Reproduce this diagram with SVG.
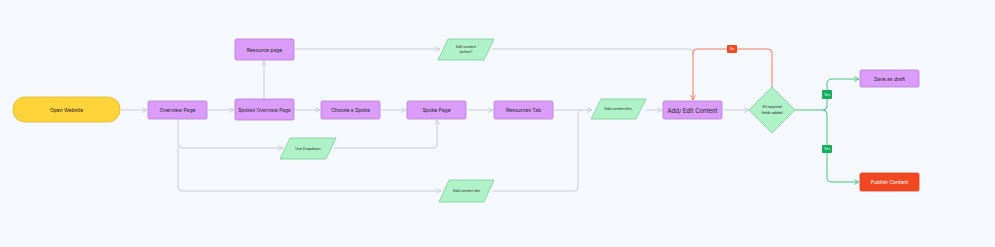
<svg xmlns="http://www.w3.org/2000/svg" width="995" height="247" viewBox="0 0 995 247">
<defs>
<style>
.t{font-family:"Inter","Liberation Sans",sans-serif;fill:#1e1e1e;text-anchor:middle;dominant-baseline:central}
.p{fill:#DA9CF8;stroke:#B47FD2;stroke-width:0.8}
.g{fill:#AFF2C8;stroke:#7ACD98;stroke-width:0.8}
.c{fill:none;stroke:#C9CDD3;stroke-width:1}
.cr{fill:none;stroke:#F27A5C;stroke-width:1}
.cg{fill:none;stroke:#45C480;stroke-width:1}
</style>
<marker id="ag" viewBox="0 0 10 10" refX="9" refY="5" markerWidth="6" markerHeight="6" orient="auto" markerUnits="userSpaceOnUse"><path d="M1,1 L9,5 L1,9" fill="none" stroke="#C9CDD3" stroke-width="1.5"/></marker>
<marker id="ar" viewBox="0 0 10 10" refX="9" refY="5" markerWidth="6" markerHeight="6" orient="auto" markerUnits="userSpaceOnUse"><path d="M1,1 L9,5 L1,9" fill="none" stroke="#F27A5C" stroke-width="1.5"/></marker>
<marker id="aG" viewBox="0 0 10 10" refX="9" refY="5" markerWidth="6" markerHeight="6" orient="auto" markerUnits="userSpaceOnUse"><path d="M1,1 L9,5 L1,9" fill="none" stroke="#45C480" stroke-width="1.5"/></marker>
</defs>
<rect width="995" height="247" fill="#F5F9FD"/>
<g id="connectors">
<path class="c" d="M121,110 H147" marker-end="url(#ag)"/>
<path class="c" d="M208,110 H234" marker-end="url(#ag)"/>
<path class="c" d="M295,110 H320" marker-end="url(#ag)"/>
<path class="c" d="M381,110 H406" marker-end="url(#ag)"/>
<path class="c" d="M467,110 H493" marker-end="url(#ag)"/>
<path class="c" d="M554,110 H592" marker-end="url(#ag)"/>
<path class="c" d="M646,110 H662" marker-end="url(#ag)"/>
<path class="c" d="M723,110 H749" marker-end="url(#ag)"/>
<path class="c" d="M264,99 V61" marker-end="url(#ag)"/>
<path class="c" d="M295,49 H440" marker-end="url(#ag)"/>
<path class="c" d="M492,49 H688 Q693,49 693,54"/>
<path class="c" d="M178,119 V144 Q178,148 182,148 H283" marker-end="url(#ag)"/>
<path class="c" d="M334,148 H433 Q437,148 437,144 V120" marker-end="url(#ag)"/>
<path class="c" d="M178,148 V187 Q178,191 182,191 H441" marker-end="url(#ag)"/>
<path class="c" d="M492,191 H574 Q578,191 578,187 V115 Q578,110 583,110"/>
<path class="cr" d="M772,87 V53 Q772,49 768,49 H697 Q693,49 693,53 V100" marker-end="url(#ar)"/>
<path class="cg" d="M795,110 H823 Q827,110 827,106 V84 Q827,79 832,79 H859" marker-end="url(#aG)"/>
<path class="cg" d="M823,110 Q827,110 827,114 V178 Q827,182 832,182 H859" marker-end="url(#aG)"/>
<rect x="727" y="45" width="10" height="8" fill="#F24822" rx="1"/>
<text class="t" x="732" y="49" font-size="3.5" style="fill:#fff">No</text>
<rect x="822" y="90" width="10" height="9" fill="#14AE5C" rx="1"/>
<text class="t" x="827" y="94.5" font-size="3.5" style="fill:#fff">Yes</text>
<rect x="822" y="145" width="10" height="8" fill="#14AE5C" rx="1"/>
<text class="t" x="827" y="149" font-size="3.5" style="fill:#fff">Yes</text>
</g>
<g id="open-website"><rect x="13" y="97" width="107" height="25" rx="12" fill="#FFD43B" stroke="#E2B52A" stroke-width="0.8"/><text class="t" x="66.5" y="110" font-size="5">Open Website</text></g>
<g id="overview-page"><rect class="p" x="148" y="101" width="59" height="18" rx="1.5"/><text class="t" x="177.5" y="110" font-size="5">Overview Page</text></g>
<g id="resource-page"><rect class="p" x="235" y="39" width="59" height="21" rx="1.5"/><text class="t" x="264.5" y="49.5" font-size="5">Resource page</text></g>
<g id="spokes-overview-page"><rect class="p" x="235" y="99" width="59" height="21" rx="1.5"/><text class="t" x="264.5" y="110" font-size="4.8">Spokes Overview Page</text></g>
<g id="choose-spoke"><rect class="p" x="321" y="101" width="59" height="18" rx="1.5"/><text class="t" x="350.5" y="110" font-size="5">Choose a Spoke</text></g>
<g id="spoke-page"><rect class="p" x="407" y="101" width="59" height="18" rx="1.5"/><text class="t" x="436.5" y="110" font-size="5">Spoke  Page</text></g>
<g id="resources-tab"><rect class="p" x="494" y="101" width="59" height="18" rx="1.5"/><text class="t" x="523.5" y="110" font-size="5">Resources Tab</text></g>
<g id="edit-content-button"><path class="g" d="M448,39 H494 L484,60 H438 Z"/><text class="t" x="466" y="46.5" font-size="3.6">Edit content</text><text class="t" x="466" y="52" font-size="3.6">button?</text></g>
<g id="use-dropdown"><path class="g" d="M290,138 H336 L326,159 H280 Z"/><text class="t" x="308" y="148.5" font-size="3.6">Use Dropdown</text></g>
<g id="add-content-btn-bottom"><path class="g" d="M449,180 H494 L484,202 H439 Z"/><text class="t" x="466.5" y="191" font-size="3.6">Add content btn</text></g>
<g id="add-content-btn"><path class="g" d="M601,99 H646 L636,119 H591 Z"/><text class="t" x="618.5" y="109" font-size="3.6">Add content btn.</text></g>
<g id="add-edit-content"><rect class="p" x="663" y="101" width="59" height="18" rx="1.5"/><text class="t" x="692.5" y="110" font-size="6">Add/ Edit Content</text></g>
<g id="all-required"><path class="g" d="M772,87 L795,110 L772,133 L749,110 Z"/><text class="t" x="772" y="107" font-size="3.6">All required</text><text class="t" x="772" y="113" font-size="3.6">fields added</text></g>
<g id="save-draft"><rect class="p" x="860" y="70" width="59" height="17" rx="1.5"/><text class="t" x="889.5" y="78.5" font-size="5">Save as draft</text></g>
<g id="publish-content"><rect x="860" y="173" width="59" height="18" rx="1.5" fill="#F24822" stroke="#E0401C" stroke-width="0.8"/><text class="t" x="889.5" y="182" font-size="5" style="fill:#fff">Publish Content</text></g>
</svg>
